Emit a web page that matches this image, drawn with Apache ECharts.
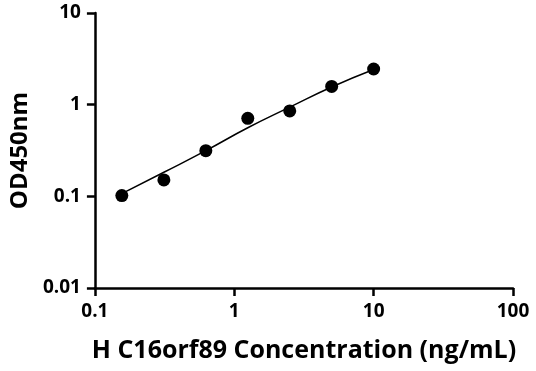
<!DOCTYPE html>
<html><head><meta charset="utf-8">
<script src="https://cdn.jsdelivr.net/npm/echarts@6/dist/echarts.min.js"></script>
<style>html,body{margin:0;padding:0;background:#fff}#c{width:536px;height:371px}</style>
</head><body><div id="c"></div>
<script>
var concentrations = [0.156, 0.3125, 0.625, 1.25, 2.5, 5, 10];
var odValues = [0.102, 0.151, 0.315, 0.71, 0.855, 1.58, 2.45];
var fitX = [0.156, 0.3125, 0.625, 1.25, 2.5, 5, 10];
var fitY = [0.107, 0.183, 0.315, 0.56, 0.94, 1.56, 2.42];
var xTicks = [0.1, 1, 10, 100];
var yTicks = [0.01, 0.1, 1, 10];

var font = '"Open Sans", "DejaVu Sans", sans-serif';
var chart = echarts.init(document.getElementById('c'), null, {renderer: 'canvas'});
chart.setOption({
  animation: false,
  grid: {left: 92, top: 13, right: 23, bottom: 83},
  xAxis: {
    type: 'log', logBase: 10, min: 0.1, max: 100,
    name: 'H C16orf89 Concentration (ng/mL)', nameLocation: 'middle', nameGap: 50,
    nameTextStyle: {fontFamily: font, fontWeight: 'bold', fontSize: 25, color: '#000'},
    axisLine: {lineStyle: {color: '#000', width: 2.5}},
    axisTick: {inside: false, length: 8, lineStyle: {color: '#000', width: 2.5}},
    minorTick: {show: false},
    splitLine: {show: false},
    axisLabel: {fontFamily: font, fontWeight: 'bold', fontSize: 19, color: '#000', margin: 14,
      formatter: function (v) { var t = xTicks.find(function (k) { return Math.abs(k - v) / k < 1e-6; }); return t !== undefined ? String(t) : ''; }}
  },
  yAxis: {
    type: 'log', logBase: 10, min: 0.01, max: 10,
    name: 'OD450nm', nameLocation: 'middle', nameGap: 62,
    nameTextStyle: {fontFamily: font, fontWeight: 'bold', fontSize: 24, color: '#000'},
    axisLine: {show: true, lineStyle: {color: '#000', width: 2.5}},
    axisTick: {show: true, inside: false, length: 8, lineStyle: {color: '#000', width: 2.5}},
    splitLine: {show: false},
    axisLabel: {fontFamily: font, fontWeight: 'bold', fontSize: 19, color: '#000', margin: 14,
      formatter: function (v) { var t = yTicks.find(function (k) { return Math.abs(k - v) / k < 1e-6; }); return t !== undefined ? String(t) : ''; }}
  },
  series: [
    {type: 'line', data: fitX.map(function (x, i) { return [x, fitY[i]]; }), smooth: true,
     showSymbol: false, lineStyle: {color: '#000', width: 1.5}, z: 2},
    {type: 'scatter', data: concentrations.map(function (x, i) { return [x, odValues[i]]; }),
     symbol: 'circle', symbolSize: 13, itemStyle: {color: '#000', opacity: 1}, z: 3}
  ]
});
</script></body></html>
